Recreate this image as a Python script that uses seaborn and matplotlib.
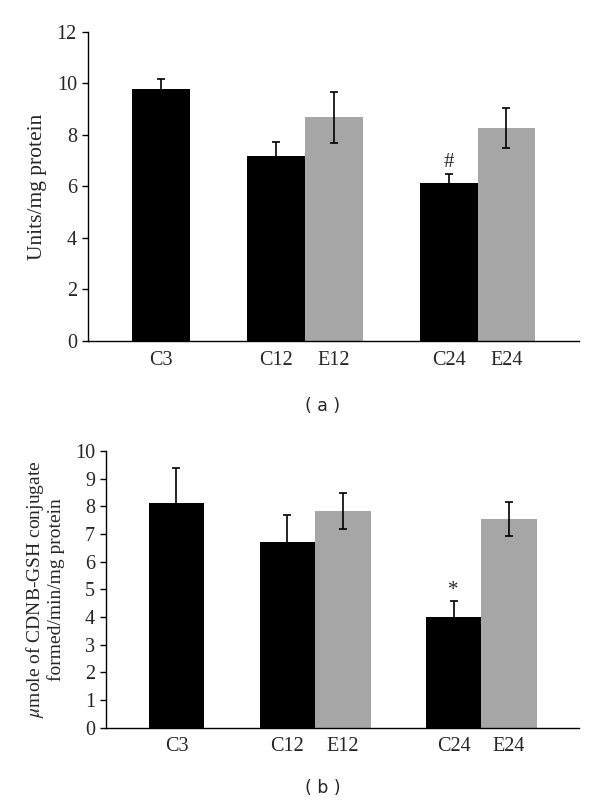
import numpy as np
import pandas as pd
import matplotlib
matplotlib.use("Agg")
import matplotlib.pyplot as plt
import seaborn as sns

sns.set_theme(style="white")
plt.rcParams['font.family'] = ['Liberation Serif', 'DejaVu Serif']
plt.rcParams['mathtext.fontset'] = 'stix'

# data
labels = ["C3", "C12", "E12", "C24", "E24"]
groups = ["C", "C", "E", "C", "E"]
positions = [0, 2, 3, 5, 6]
vals_a = [9.78, 7.17, 8.68, 6.13, 8.26]
errs_a = [0.40, 0.57, 0.99, 0.35, 0.78]
vals_b = [8.13, 6.72, 7.84, 4.01, 7.53]
errs_b = [1.26, 0.98, 0.66, 0.57, 0.61]
ylab_a = "Units/mg protein"
ylab_b = "$\\mathit{\\mu}$mole of CDNB-GSH conjugate\nformed/min/mg protein"

palette = {"C": "#000000", "E": "#A6A6A6"}

fig = plt.figure(figsize=(6.0, 8.05), dpi=100)
ax1 = fig.add_axes([88/600, 1-341/805, (579-88)/600, (341-32)/805])
ax2 = fig.add_axes([106/600, 1-727.7/805, (579-106)/600, (727.7-451)/805])


def draw(ax, vals, errs, ymax, ystep, ylabel, ylsize, mark, mark_y):
    df = pd.DataFrame({"pos": positions, "val": vals, "grp": groups})
    sns.barplot(data=df, x="pos", y="val", hue="grp", palette=palette,
                native_scale=True, width=1.0, dodge=False, legend=False,
                saturation=1, ax=ax, errorbar=None, edgecolor="none",
                linewidth=0)
    ax.errorbar(positions, vals, yerr=errs, fmt="none", ecolor="black",
                elinewidth=1.2, capsize=2.6, capthick=1.2)
    ax.set_xlim(-1.27, 7.26)
    ax.set_ylim(0, ymax)
    ticks = np.arange(0, ymax + 0.01, ystep)
    ax.set_yticks(ticks)
    ax.set_yticklabels([f"{int(v)}" for v in ticks], fontsize=14.5)
    ax.set_xticks(positions)
    ax.set_xticklabels(labels, fontsize=14.5)
    ax.set_xticks([7.26], minor=True)
    ax.tick_params(axis="x", which="major", length=0, pad=7)
    ax.tick_params(axis="x", which="minor", length=4, width=1, direction="out",
                   color="black")
    ax.tick_params(axis="y", length=4, width=1, direction="out", color="black",
                   pad=4, left=True)
    for s in ["top", "right"]:
        ax.spines[s].set_visible(False)
    for s in ["left", "bottom"]:
        ax.spines[s].set_color("black")
        ax.spines[s].set_linewidth(1.0)
    ax.set_xlabel("")
    ax.set_ylabel(ylabel, fontsize=ylsize, labelpad=7)
    ax.text(5, mark_y, mark, ha="center", va="center", fontsize=15)


draw(ax1, vals_a, errs_a, 12, 2, ylab_a, 15.5, "#", 6.95)
draw(ax2, vals_b, errs_b, 10, 1, ylab_b, 14, "*", 4.95)
ax2.yaxis.label.set_linespacing(1.1)

fig.text(323/600, 1-406/805, "( a )", ha="center", va="center",
         fontsize=12.5, family="DejaVu Sans")
fig.text(323/600, 1-788/805, "( b )", ha="center", va="center",
         fontsize=12.5, family="DejaVu Sans")

fig.savefig("out.png", dpi=100)
